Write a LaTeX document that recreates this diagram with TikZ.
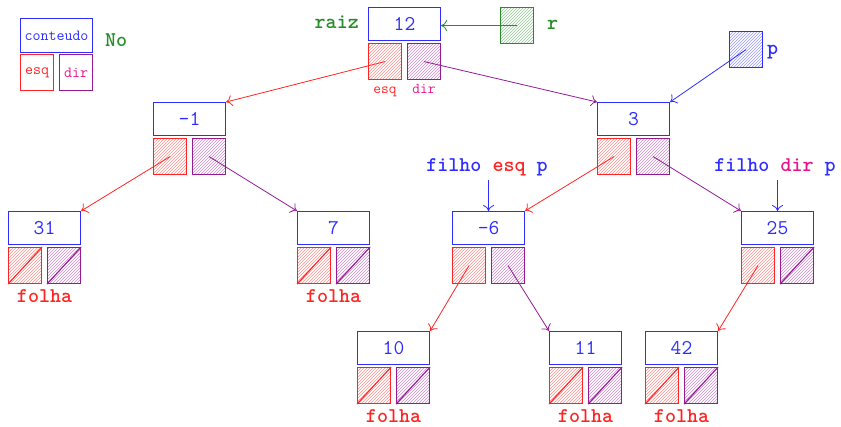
\documentclass[tikz,border=0pt]{standalone}
\usetikzlibrary{patterns,arrows.meta,calc}
\definecolor{cblue}{RGB}{45,45,255}
\definecolor{cred}{RGB}{255,35,35}
\definecolor{cpurple}{RGB}{150,25,150}
\definecolor{cgreen}{RGB}{40,140,40}
\definecolor{cmag}{RGB}{230,20,140}
\tikzset{
  base/.style={draw, line width=1.1pt, inner sep=0pt, anchor=north west},
  cbox/.style={base, cblue, minimum width=72pt, minimum height=33pt, font=\fontsize{21}{24}\selectfont\ttfamily},
  lbox/.style={base, cred, minimum width=33pt, minimum height=36pt, pattern=north east lines, pattern color=cred!50},
  rbox/.style={base, cpurple, minimum width=33pt, minimum height=36pt, pattern=north east lines, pattern color=cpurple!50},
  ptrbox/.style={base, minimum width=33pt, minimum height=36pt},
  bigtxt/.style={font=\fontsize{21}{24}\selectfont\ttfamily\bfseries, inner sep=0pt},
  smalltxt/.style={font=\fontsize{15}{17}\selectfont\ttfamily, inner sep=0pt},
  arr/.style={line width=0.8pt, -{Computer Modern Rightarrow[length=6pt,width=11pt]}},
  nullline/.style={line width=1.1pt},
}
\newcommand\tnode[4]{%
  \node[cbox] (#1) at (#2,#3) {#4};
  \node[lbox] (#1l) at (#2,#3+36) {};
  \node[rbox] (#1r) at (#2+39,#3+36) {};
}
\newcommand\nullptr[1]{%
  \draw[nullline, cred] (#1l.south west) -- (#1l.north east);
  \draw[nullline, cpurple] (#1r.south west) -- (#1r.north east);
}
\begin{document}
\begin{tikzpicture}[x=1pt,y=-1pt]
\useasboundingbox (0,0) rectangle (841,426);
% legend
\node[base, cblue, minimum width=72pt, minimum height=34pt, font=\fontsize{15.5}{17}\selectfont\ttfamily] (lc) at (20,18) {conteudo};
\node[ptrbox, cred, font=\fontsize{15.5}{17}\selectfont\ttfamily] (le) at (20,54) {esq};
\node[ptrbox, cpurple, text=cmag, font=\fontsize{15.5}{17}\selectfont\ttfamily] (ld) at (59,54) {dir};
\node[bigtxt, cgreen, anchor=west] (no) at (105,40) {No};
% tree nodes
\tnode{n12}{368}{7}{12}
\tnode{nm1}{153}{102}{-1}
\tnode{n3}{597}{102}{3}
\tnode{n31}{8}{211}{31}
\tnode{n7}{297}{211}{7}
\tnode{nm6}{452}{211}{-6}
\tnode{n25}{741}{211}{25}
\tnode{n10}{357}{331}{10}
\tnode{n11}{549}{331}{11}
\tnode{n42}{645}{331}{42}
% null pointers
\nullptr{n31}
\nullptr{n7}
\nullptr{n10}
\nullptr{n11}
\nullptr{n42}
\draw[nullline, cpurple] (n25r.south west) -- (n25r.north east);
% labels
\node[bigtxt, cgreen, anchor=east] (raiz) at (359,22) {raiz};
\node[smalltxt, cred, anchor=base] (esqlab) at (n12l.south |- 0,93) {esq};
\node[smalltxt, cmag, anchor=base] (dirlab) at (n12r.south |- 0,93) {dir};
\node[base, cgreen, minimum width=33pt, minimum height=36pt, pattern=north east lines, pattern color=cgreen!50] (r) at (500,7) {};
\node[bigtxt, cgreen, anchor=west] (rlab) at (547,25) {r};
\node[base, cblue, minimum width=33pt, minimum height=36pt, pattern=north east lines, pattern color=cblue!50] (p) at (729,31) {};
\node[bigtxt, cblue, anchor=west] (plab) at (767,52) {p};
\node[bigtxt, cblue] (fep) at (487,167) {filho \textcolor{cred}{esq} p};
\node[bigtxt, cblue] (fdp) at (775,167) {filho \textcolor{cmag}{dir} p};
% folha labels
\foreach \n in {n31,n7,n10,n11,n42}{
  \node[bigtxt, cred, anchor=base] at ($(\n l.south)!0.5!(\n r.south)+(0,18)$) {folha};
}
% connectors
\draw[arr, cgreen] (r.center) -- (n12.east |- r.center);
\draw[arr, cblue] (p.center) -- (n3.north east);
\draw[arr, cred] (n12l.center) -- (nm1.north east);
\draw[arr, cpurple] (n12r.center) -- (n3.north west);
\draw[arr, cred] (nm1l.center) -- (n31.north east);
\draw[arr, cpurple] (nm1r.center) -- (n7.north west);
\draw[arr, cred] (n3l.center) -- (nm6.north east);
\draw[arr, cpurple] (n3r.center) -- (n25.north west);
\draw[arr, cred] (nm6l.center) -- (n10.north east);
\draw[arr, cpurple] (nm6r.center) -- (n11.north west);
\draw[arr, cred] (n25l.center) -- (n42.north east);
\draw[arr, cblue] (nm6.north |- fep.south) ++(0,4) -- (nm6.north);
\draw[arr, cblue] (n25.north |- fdp.south) ++(0,4) -- (n25.north);
\end{tikzpicture}
\end{document}
